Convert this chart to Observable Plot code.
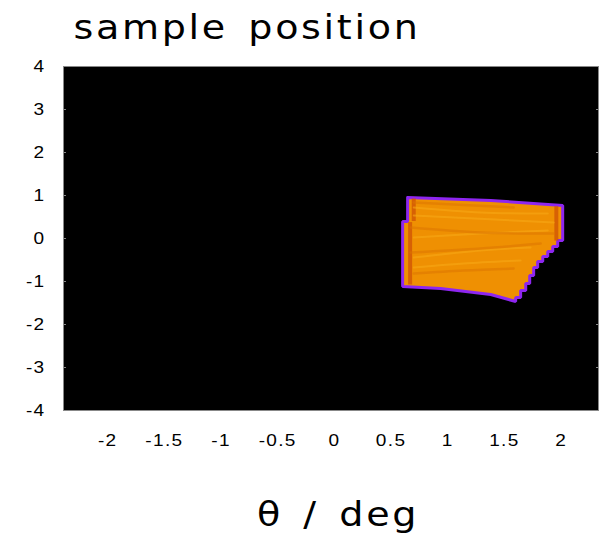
<!DOCTYPE html>
<html><head><meta charset="utf-8">
<script src="https://cdn.jsdelivr.net/npm/d3@7"></script>
<script src="https://cdn.jsdelivr.net/npm/@observablehq/plot@0.6"></script>
<style>body{margin:0;background:#fff}</style>
</head><body><div id="chart"></div>
<script>
const title = "sample position";
const xLabel = "θ / deg";
const xDomain = [-2.39, 2.33];
const yDomain = [-4, 4];
const xTicks = [-2, -1.5, -1, -0.5, 0, 0.5, 1, 1.5, 2];
const yTicks = [-4, -3, -2, -1, 0, 1, 2, 3, 4];

// outline of the illuminated sample region (theta, position)
const shapeX = [0.646, 1.379, 2.014, 2.014, 1.970, 1.970, 1.926, 1.926, 1.882, 1.882, 1.838, 1.838, 1.793, 1.793, 1.758, 1.758, 1.723, 1.723, 1.688, 1.688, 1.643, 1.643, 1.599, 1.599, 1.379, 0.937, 0.602, 0.602, 0.646, 0.646];
const shapeY = [0.953, 0.884, 0.767, -0.047, -0.047, -0.186, -0.186, -0.302, -0.302, -0.419, -0.419, -0.535, -0.535, -0.674, -0.674, -0.860, -0.860, -1.047, -1.047, -1.209, -1.209, -1.372, -1.372, -1.465, -1.302, -1.163, -1.116, 0.395, 0.395, 0.953];

// darker edge bands
const bandX  = [0.668, 0.700, 1.958];
const bandY1 = [-1.08, 0.395, -0.06];
const bandY2 = [0.37, 0.92, 0.74];

// intensity streaks
const streakId = [1,1,1, 2,2,2, 3,3,3, 4,4,4, 5,5,5, 6,6,6, 7,7,7, 8,8,8, 9,9];
const streakX = [0.700,1.581,1.935, 0.673,1.290,1.935, 0.700,1.290,1.882, 0.673,1.290,1.820, 0.700,1.290,1.731, 0.700,1.290,1.882, 0.700,1.141,1.643, 0.700,1.141,1.581, 0.700,1.581];
const streakY = [0.535,0.419,0.372, 0.256,0.140,0.116, 0.023,0.116,0.186, -0.326,-0.233,-0.116, -0.442,-0.279,-0.209, 0.721,0.605,0.581, -0.674,-0.581,-0.512, -0.814,-0.744,-0.698, 0.837,0.721];
const streakTone = {1:"light",2:"dark",3:"light",4:"dark",5:"light",6:"light",7:"light",8:"dark",9:"dark"};

const shape = shapeX.map((x, i) => ({x, y: shapeY[i]}));
const bands = bandX.map((x, i) => ({x, y1: bandY1[i], y2: bandY2[i]}));
const streaks = streakX.map((x, i) => ({x, y: streakY[i], id: streakId[i], tone: streakTone[streakId[i]]}));
const fmt = d => String(d);

const chart = Plot.plot({
  width: 605, height: 535,
  marginLeft: 63, marginRight: 7, marginTop: 66, marginBottom: 125,
  style: {fontFamily: "'Liberation Sans', Arial, sans-serif", fontSize: "17px", background: "white", color: "black"},
  x: {domain: xDomain},
  y: {domain: yDomain},
  marks: [
    Plot.frame({fill: "black"}),
    Plot.line(shape, {x: "x", y: "y", fill: "#ef9002", stroke: "#8e26f0", strokeWidth: 3, strokeLinejoin: "miter"}),
    Plot.ruleX(bands, {x: "x", y1: "y1", y2: "y2", stroke: "#cf5206", strokeWidth: 4, strokeOpacity: 0.75}),
    Plot.line(streaks.filter(d => d.tone === "light"), {x: "x", y: "y", z: "id", stroke: "#f6a816", strokeWidth: 2, strokeOpacity: 0.6, curve: "natural"}),
    Plot.line(streaks.filter(d => d.tone === "dark"), {x: "x", y: "y", z: "id", stroke: "#dc7402", strokeWidth: 2.5, strokeOpacity: 0.55, curve: "natural"}),
    Plot.frame({stroke: "#888", strokeWidth: 1}),
    Plot.axisY(yTicks, {anchor: "left", tickSize: 3, dx: 3, tickFormat: () => "", stroke: "#888", label: null}),
    Plot.axisY(yTicks, {anchor: "right", tickSize: 3, dx: -3, tickFormat: () => "", stroke: "#888", label: null}),
    Plot.axisX(xTicks, {anchor: "bottom", tickSize: 0, tickPadding: 23, tickFormat: fmt, label: null, fontSize: 17}),
    Plot.axisY(yTicks, {anchor: "left", tickSize: 0, tickPadding: 18, tickFormat: fmt, label: null, fontSize: 17}),
    Plot.text([title], {frameAnchor: "top-left", textAnchor: "start", lineAnchor: "bottom", dx: 10, dy: -28, fontSize: 34, fontFamily: "'DejaVu Sans', sans-serif", fill: "black"}),
    Plot.text([xLabel], {frameAnchor: "bottom", lineAnchor: "bottom", dx: 7, dy: 115, fontSize: 34, fontFamily: "'DejaVu Sans', sans-serif", fill: "black"})
  ]
});
// the reference glyphs are slightly widened and spaced; stretch each text about its anchor
d3.select(chart).selectAll("text").each(function() {
  const t = d3.select(this);
  let tr = t.attr("transform");
  if (!tr) {
    const x = +(t.attr("x") || 0), y = +(t.attr("y") || 0);
    t.attr("x", null).attr("y", null);
    tr = `translate(${x},${y})`;
  }
  t.attr("transform", `${tr} scale(1.12,1)`)
   .style("letter-spacing", "0.07em")
   .style("word-spacing", "0.15em");
});
document.getElementById("chart").appendChild(chart);
</script>
</body></html>
